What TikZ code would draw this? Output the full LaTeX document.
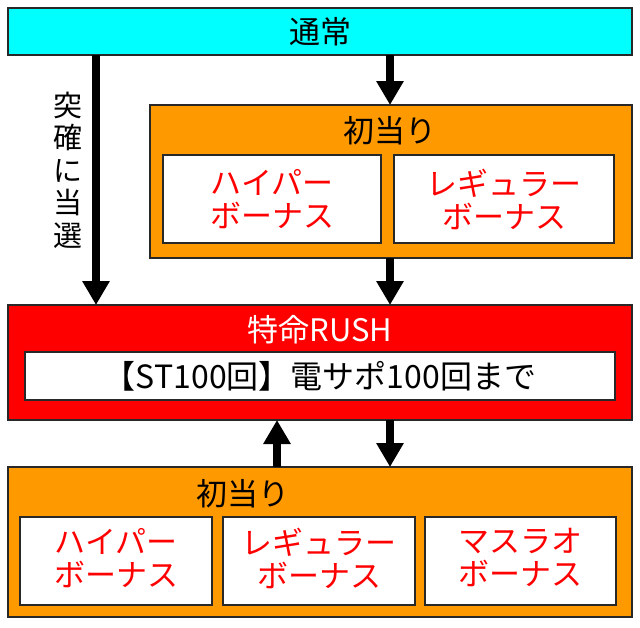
\documentclass[tikz,border=0pt]{standalone}
\usepackage{fontspec}
\setmainfont{Noto Sans CJK JP}
\usetikzlibrary{arrows.meta}
\definecolor{tsucyan}{RGB}{0,255,255}
\definecolor{hitorange}{RGB}{255,153,0}
\definecolor{rushred}{RGB}{255,0,0}
\definecolor{edgegray}{RGB}{40,40,40}
\begin{document}
\begin{tikzpicture}[x=1pt,y=-1pt,
  box/.style={draw=edgegray, line width=1.5pt, inner sep=0pt, outer sep=0pt, anchor=north west},
  lbl/.style={font=\fontsize{31}{33}\selectfont, inner sep=0pt, align=center},
  bonus/.style={lbl, text=rushred},
  bigarrow/.style={line width=8pt, -{Triangle[width=26pt,length=24pt]}}]
\useasboundingbox (0,0) rectangle (640,627);
\fill[white] (0,0) rectangle (640,627);
% boxes
\node[box, fill=tsucyan, minimum width=624pt, minimum height=47pt] (tsujo) at (8,8) {};
\node[box, fill=hitorange, minimum width=482pt, minimum height=153pt] (hatsu1) at (150,105) {};
\node[box, fill=white, minimum width=218pt, minimum height=88pt] (hyper1) at (163,155) {};
\node[box, fill=white, minimum width=220pt, minimum height=88pt] (reg1) at (394,155) {};
\node[box, fill=rushred, minimum width=624pt, minimum height=115pt] (rush) at (8,305) {};
\node[box, fill=white, minimum width=590pt, minimum height=48pt] (st) at (25,352) {};
\node[box, fill=hitorange, minimum width=624pt, minimum height=150pt] (hatsu2) at (8,467) {};
\node[box, fill=white, minimum width=192pt, minimum height=88pt] (hyper2) at (20,517) {};
\node[box, fill=white, minimum width=192pt, minimum height=88pt] (reg2) at (223,517) {};
\node[box, fill=white, minimum width=191pt, minimum height=88pt] (masu2) at (425,517) {};
% texts
\node[lbl] (tsujotxt) at (tsujo.center) {通常};
\node[lbl] (hatsu1txt) at (390,131) {初当り};
\node[bonus] (hyper1txt) at (hyper1.center) {ハイパー\\ボーナス};
\node[bonus] (reg1txt) at (reg1.center) {レギュラー\\ボーナス};
\node[lbl, text=white] (rushtxt) at (320,330) {特命RUSH};
\node[lbl, font=\fontsize{32}{34}\selectfont] (sttxt) at (st.center) {【ST100回】電サポ100回まで};
\node[lbl] (hatsu2txt) at (243,494) {初当り};
\node[bonus] (hyper2txt) at ([yshift=3pt]hyper2.center) {ハイパー\\ボーナス};
\node[bonus] (reg2txt) at ([yshift=3pt]reg2.center) {レギュラー\\ボーナス};
\node[bonus] (masu2txt) at ([yshift=3pt]masu2.center) {マスラオ\\ボーナス};
\node[lbl, font=\fontsize{29}{32.5}\selectfont] (tokkaku) at (68,170) {突\\確\\に\\当\\選};
% arrows
\coordinate (colL) at (96,0);
\coordinate (colM) at (277,0);
\coordinate (colR) at (390,0);
\draw[bigarrow] (tsujo.south -| colL) -- (rush.north -| colL);
\draw[bigarrow] (tsujo.south -| colR) -- (hatsu1.north -| colR);
\draw[bigarrow] (hatsu1.south -| colR) -- (rush.north -| colR);
\draw[bigarrow] (rush.south -| colR) -- (hatsu2.north -| colR);
\draw[bigarrow] (hatsu2.north -| colM) -- (rush.south -| colM);
\end{tikzpicture}
\end{document}
